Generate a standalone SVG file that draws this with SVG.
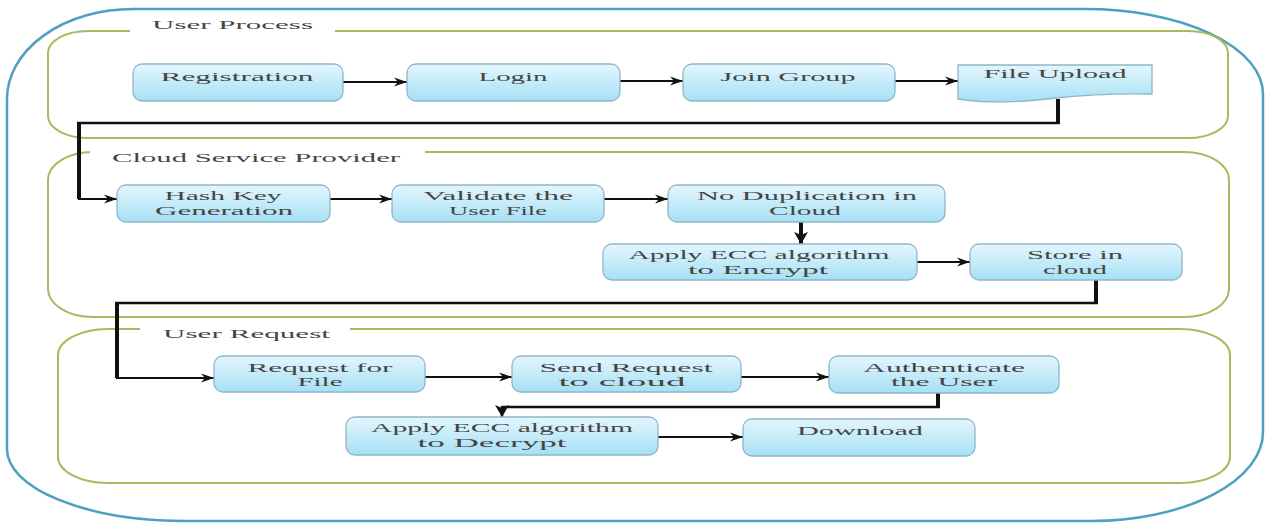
<svg xmlns="http://www.w3.org/2000/svg" width="1269" height="524" viewBox="0 0 1269 524">
<style>
.outer{fill:none;stroke:#4f9fc0;stroke-width:2.5}
.grp{fill:none;stroke:#a9ba5c;stroke-width:2}
.gap{fill:#fff}
.node{fill:url(#ng);stroke:#8fb6c8;stroke-width:1.3}
.t{font-family:"Liberation Serif","Times New Roman",serif;font-size:13px;fill:#444;text-anchor:middle}
.title{font-family:"Liberation Serif","Times New Roman",serif;font-size:13px;fill:#444}
.c{fill:none;stroke:#111;stroke-width:1.8}
.k{fill:none;stroke:#111;stroke-width:4}
.m{fill:none;stroke:#111;stroke-width:2.5}
</style>
<defs>
<linearGradient id="ng" x1="0" y1="0" x2="0" y2="1">
<stop offset="0" stop-color="#e4f6fd"/>
<stop offset="1" stop-color="#a6e0f5"/>
</linearGradient>
<marker id="arr" markerUnits="userSpaceOnUse" markerWidth="14" markerHeight="10" refX="13" refY="5" orient="auto">
<path d="M0,0.5 L13,5 L0,9.5 L4,5 Z" fill="#111"/>
</marker>
<marker id="arrb" markerUnits="userSpaceOnUse" markerWidth="14" markerHeight="14" refX="12" refY="7" orient="auto">
<path d="M0,0 L12,7 L0,14 L3,7 Z" fill="#111"/>
</marker>
</defs>
<rect width="1269" height="524" fill="#fff"/>
<path class="outer" d="M133,9 H1085 A178,85 0 0 1 1263,94 V432 A172,89 0 0 1 1091,521 H185 A178,72 0 0 1 7,449 V99 A126,90 0 0 1 133,9 Z"/>
<g id="group-user-process">
<rect class="grp" x="48" y="31" width="1180" height="107" rx="40" ry="22"/>
<rect class="gap" x="130" y="24" width="205" height="14"/>
<text class="title" x="152" y="29" font-size="12" textLength="161" lengthAdjust="spacingAndGlyphs">User Process</text>
</g>
<g id="group-cloud-service-provider">
<rect class="grp" x="48" y="152" width="1181" height="165" rx="45" ry="28"/>
<rect class="gap" x="90" y="145" width="335" height="14"/>
<text class="title" x="112" y="162" textLength="288" lengthAdjust="spacingAndGlyphs">Cloud Service Provider</text>
</g>
<g id="group-user-request">
<rect class="grp" x="58" y="329" width="1172" height="154" rx="50" ry="26"/>
<rect class="gap" x="140" y="322" width="210" height="14"/>
<text class="title" x="163" y="338" textLength="167" lengthAdjust="spacingAndGlyphs">User Request</text>
</g>
<g id="connectors">
<line class="c" x1="343" y1="82" x2="407" y2="82" marker-end="url(#arr)"/>
<line class="c" x1="620" y1="81" x2="683" y2="81" marker-end="url(#arr)"/>
<line class="c" x1="895" y1="81" x2="958" y2="81" marker-end="url(#arr)"/>
<path class="k" d="M1058,99 V123"/>
<path class="m" d="M1060,123 H77"/>
<path class="k" d="M79,122 V199"/>
<line class="c" x1="78" y1="199" x2="117" y2="199" marker-end="url(#arr)"/>
<line class="c" x1="330" y1="199" x2="392" y2="199" marker-end="url(#arr)"/>
<line class="c" x1="604" y1="199" x2="668" y2="199" marker-end="url(#arr)"/>
<line class="k" x1="801" y1="222" x2="801" y2="244" stroke-width="3.5" marker-end="url(#arrb)"/>
<line class="c" x1="917" y1="262" x2="970" y2="262" marker-end="url(#arr)"/>
<path class="k" d="M1096,280 V303"/>
<path class="m" d="M1098,303 H115"/>
<path class="k" d="M117,302 V378"/>
<line class="c" x1="116" y1="378" x2="214" y2="378" marker-end="url(#arr)"/>
<line class="c" x1="425" y1="377" x2="512" y2="377" marker-end="url(#arr)"/>
<line class="c" x1="741" y1="377" x2="829" y2="377" marker-end="url(#arr)"/>
<path class="k" d="M938,393 V407"/>
<path class="m" d="M940,407 H502"/>
<line class="m" x1="502" y1="406" x2="502" y2="417" stroke-width="3" marker-end="url(#arrb)"/>
<line class="c" x1="658" y1="437" x2="743" y2="437" marker-end="url(#arr)"/>
</g>
<g id="registration">
<rect class="node" x="133" y="64" width="210" height="37" rx="9"/>
<text class="t" x="237" y="81" textLength="153" lengthAdjust="spacingAndGlyphs">Registration</text>
</g>
<g id="login">
<rect class="node" x="407" y="64" width="213" height="37" rx="9"/>
<text class="t" x="513" y="81" textLength="69" lengthAdjust="spacingAndGlyphs">Login</text>
</g>
<g id="join-group">
<rect class="node" x="683" y="64" width="212" height="37" rx="9"/>
<text class="t" x="788" y="81" textLength="135" lengthAdjust="spacingAndGlyphs">Join Group</text>
</g>
<g id="file-upload">
<path class="node" d="M958,65 H1152 V94 C1110,93 1085,95 1056,98 C1020,102 990,104 958,99 Z"/>
<text class="t" x="1055" y="78" textLength="143" lengthAdjust="spacingAndGlyphs">File Upload</text>
</g>
<g id="hash-key-generation">
<rect class="node" x="117" y="185" width="213" height="37" rx="9"/>
<text class="t" x="223" y="200" textLength="117" lengthAdjust="spacingAndGlyphs">Hash Key</text>
<text class="t" x="224" y="215" textLength="138" lengthAdjust="spacingAndGlyphs">Generation</text>
</g>
<g id="validate-user-file">
<rect class="node" x="392" y="185" width="212" height="37" rx="9"/>
<text class="t" x="498" y="200" textLength="150" lengthAdjust="spacingAndGlyphs">Validate the</text>
<text class="t" x="498" y="215" textLength="98" lengthAdjust="spacingAndGlyphs">User File</text>
</g>
<g id="no-duplication">
<rect class="node" x="668" y="185" width="277" height="37" rx="9"/>
<text class="t" x="807" y="200" textLength="220" lengthAdjust="spacingAndGlyphs">No Duplication in</text>
<text class="t" x="805" y="215" textLength="72" lengthAdjust="spacingAndGlyphs">Cloud</text>
</g>
<g id="apply-ecc-encrypt">
<rect class="node" x="603" y="244" width="314" height="36" rx="9"/>
<text class="t" x="759" y="259" textLength="261" lengthAdjust="spacingAndGlyphs">Apply ECC algorithm</text>
<text class="t" x="758" y="274" textLength="140" lengthAdjust="spacingAndGlyphs">to Encrypt</text>
</g>
<g id="store-in-cloud">
<rect class="node" x="970" y="244" width="212" height="36" rx="9"/>
<text class="t" x="1075" y="259" textLength="96" lengthAdjust="spacingAndGlyphs">Store in</text>
<text class="t" x="1075" y="274" textLength="64" lengthAdjust="spacingAndGlyphs">cloud</text>
</g>
<g id="request-for-file">
<rect class="node" x="214" y="356" width="211" height="36" rx="9"/>
<text class="t" x="320" y="372" textLength="145" lengthAdjust="spacingAndGlyphs">Request for</text>
<text class="t" x="320" y="386" textLength="45" lengthAdjust="spacingAndGlyphs">File</text>
</g>
<g id="send-request">
<rect class="node" x="512" y="356" width="229" height="36" rx="9"/>
<text class="t" x="626" y="372" textLength="173" lengthAdjust="spacingAndGlyphs">Send Request</text>
<text class="t" x="622" y="386" textLength="127" lengthAdjust="spacingAndGlyphs">to cloud</text>
</g>
<g id="authenticate-user">
<rect class="node" x="829" y="356" width="230" height="37" rx="9"/>
<text class="t" x="944" y="372" textLength="162" lengthAdjust="spacingAndGlyphs">Authenticate</text>
<text class="t" x="944" y="386" textLength="106" lengthAdjust="spacingAndGlyphs">the User</text>
</g>
<g id="apply-ecc-decrypt">
<rect class="node" x="346" y="417" width="312" height="38" rx="9"/>
<text class="t" x="502" y="432" textLength="262" lengthAdjust="spacingAndGlyphs">Apply ECC algorithm</text>
<text class="t" x="492" y="447" textLength="149" lengthAdjust="spacingAndGlyphs">to Decrypt</text>
</g>
<g id="download">
<rect class="node" x="743" y="419" width="232" height="37" rx="9"/>
<text class="t" x="860" y="435" textLength="126" lengthAdjust="spacingAndGlyphs">Download</text>
</g>
</svg>
